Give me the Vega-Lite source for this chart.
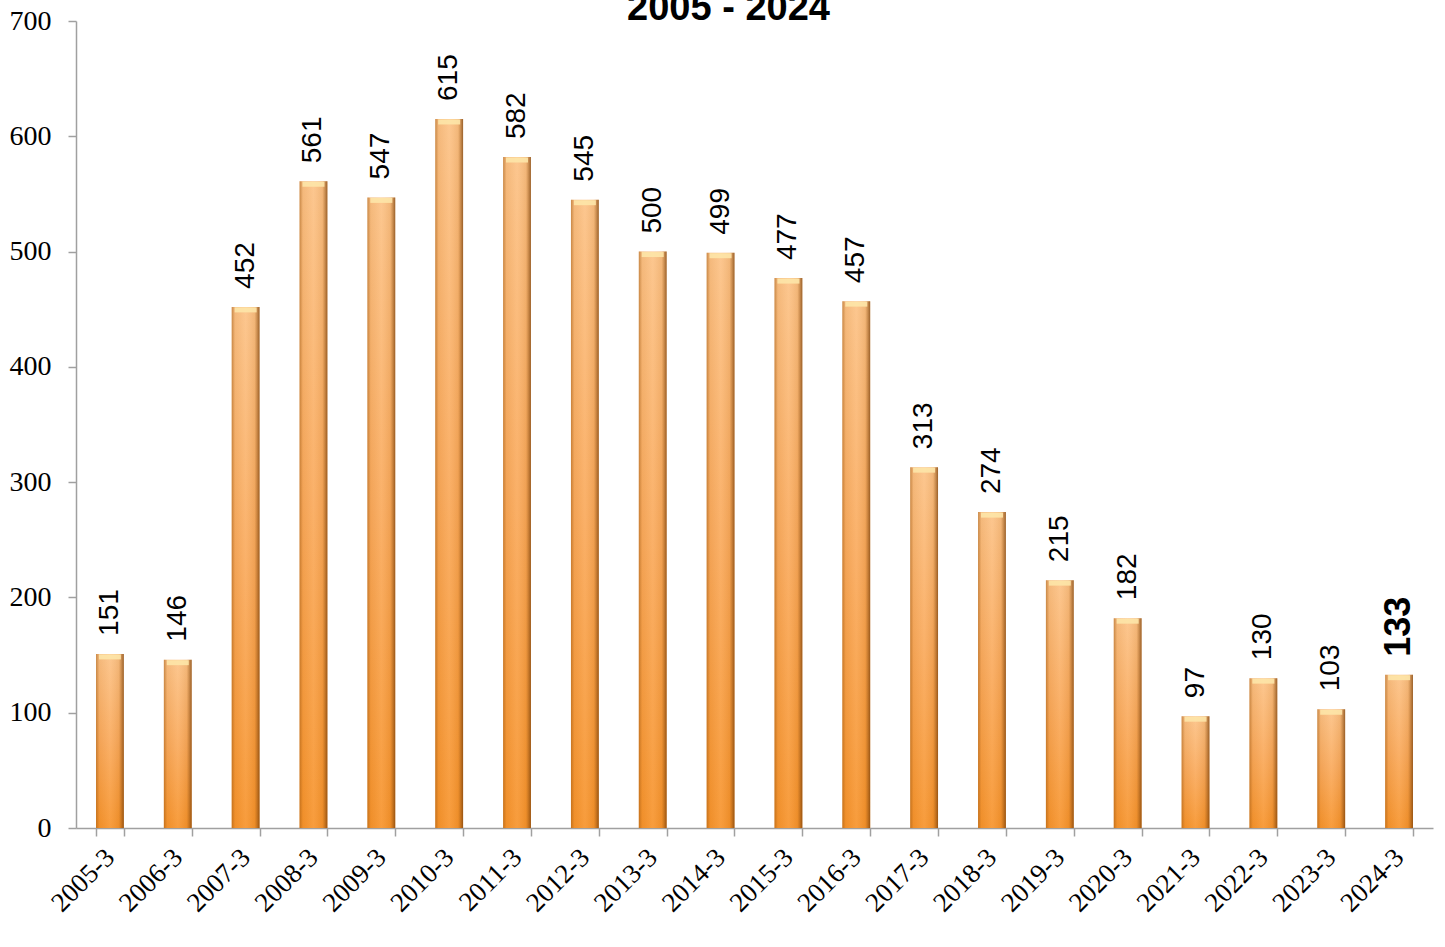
{
  "$schema": "https://vega.github.io/schema/vega-lite/v6.json",
  "width": 1357,
  "height": 807,
  "autosize": {"type": "none"},
  "padding": {"left": 76, "top": 21, "right": 12, "bottom": 119},
  "background": "white",
  "title": {"text": "2005 - 2024", "font": "Liberation Sans", "fontSize": 38, "fontWeight": "bold", "color": "#000000", "anchor": "middle", "offset": -51, "baseline": "alphabetic", "dx": -26},
  "config": {"view": {"stroke": null}},
  "data": {"values": [
    {"year": "2005-3", "value": 151},
    {"year": "2006-3", "value": 146},
    {"year": "2007-3", "value": 452},
    {"year": "2008-3", "value": 561},
    {"year": "2009-3", "value": 547},
    {"year": "2010-3", "value": 615},
    {"year": "2011-3", "value": 582},
    {"year": "2012-3", "value": 545},
    {"year": "2013-3", "value": 500},
    {"year": "2014-3", "value": 499},
    {"year": "2015-3", "value": 477},
    {"year": "2016-3", "value": 457},
    {"year": "2017-3", "value": 313},
    {"year": "2018-3", "value": 274},
    {"year": "2019-3", "value": 215},
    {"year": "2020-3", "value": 182},
    {"year": "2021-3", "value": 97},
    {"year": "2022-3", "value": 130},
    {"year": "2023-3", "value": 103},
    {"year": "2024-3", "value": 133}
  ]},
  "encoding": {
    "x": {"field": "year", "type": "nominal", "sort": null,
      "scale": {"paddingInner": 0.59, "paddingOuter": 0.295},
      "axis": {"title": null, "tickBand": "extent", "labelAngle": -45, "labelAlign": "right", "labelBaseline": "middle",
        "labelFont": "Liberation Serif", "labelFontSize": 27, "labelColor": "#000000", "labelPadding": 17,
        "domainColor": "#a0a0a0", "tickColor": "#a0a0a0", "tickSize": 8, "domainWidth": 1.5, "tickWidth": 1.5}},
    "y": {"field": "value", "type": "quantitative",
      "scale": {"domain": [0, 700], "nice": false},
      "axis": {"title": null, "values": [0, 100, 200, 300, 400, 500, 600, 700], "grid": false,
        "labelFont": "Liberation Serif", "labelFontSize": 28, "labelColor": "#000000", "labelPadding": 17,
        "domainColor": "#a0a0a0", "tickColor": "#a0a0a0", "tickSize": 8, "domainWidth": 1.5, "tickWidth": 1.5}}
  },
  "layer": [
    {"mark": {"type": "bar", "color": {"gradient": "linear", "x1": 0, "y1": 0, "x2": 0, "y2": 1,
      "stops": [{"offset": 0, "color": "#fcc286"}, {"offset": 0.5, "color": "#faaa5c"}, {"offset": 1, "color": "#f7942c"}]}}},
    {"mark": {"type": "bar", "color": {"gradient": "linear", "x1": 0, "y1": 0, "x2": 1, "y2": 0,
      "stops": [{"offset": 0, "color": "rgba(150,80,10,0.5)"}, {"offset": 0.12, "color": "rgba(150,80,10,0.08)"}, {"offset": 0.5, "color": "rgba(255,255,255,0.08)"}, {"offset": 0.82, "color": "rgba(150,80,10,0.1)"}, {"offset": 1, "color": "rgba(110,55,5,0.7)"}]}}},
    {"mark": {"type": "tick", "color": "#fde6a8", "thickness": 5, "yOffset": 3, "opacity": 0.9, "size": 22}},
    {"transform": [{"filter": "datum.year !== '2024-3'"}],
      "mark": {"type": "text", "angle": 270, "align": "left", "baseline": "middle", "dx": 18, "font": "Liberation Sans", "fontSize": 28, "color": "#000000"},
      "encoding": {"text": {"field": "value", "type": "quantitative"}}},
    {"transform": [{"filter": "datum.year === '2024-3'"}],
      "mark": {"type": "text", "angle": 270, "align": "left", "baseline": "middle", "dx": 18, "font": "Liberation Sans", "fontSize": 36, "fontWeight": "bold", "color": "#000000"},
      "encoding": {"text": {"field": "value", "type": "quantitative"}}}
  ]
}
